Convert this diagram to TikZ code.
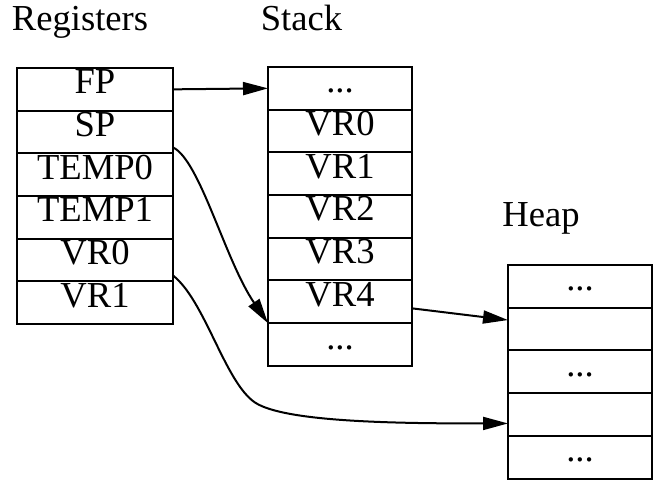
\documentclass[tikz,border=0pt]{standalone}
\usepackage{fontspec}
\setmainfont{Liberation Serif}
\usetikzlibrary{positioning,arrows.meta}
\newcommand{\celldots}{...}
\tikzset{
	cell/.style={draw, line width=1pt, inner sep=0pt, outer sep=0pt, minimum height=21.35pt,
		text height=.70em, text depth=.25em, font=\fontsize{18.3}{22}\selectfont},
	title/.style={anchor=base, inner sep=0pt, font=\fontsize{18.3}{22}\selectfont},
	ptr/.style={line width=1pt, -{Triangle[length=12.5pt,width=6.5pt]}}
}
\begin{document}
\begin{tikzpicture}[x=.5pt, y=-.5pt]
	\useasboundingbox (0,0) rectangle (653,480);
	
	\node[title] (regtitle) at (80,31) {Registers};
	\node[title] (stktitle) at (301.5,31) {Stack};
	\node[title] (heaptitle) at (541,227) {Heap};
	
	% registers
	\node[cell, minimum width=78pt] (reg1) at (95,89.35) {FP};
	\foreach \txt [count=\i from 2, remember=\i as \last (initially 1)] in {SP,TEMP0,TEMP1,VR0,VR1}
		\node[cell, minimum width=78pt, below=0pt of reg\last] (reg\i) {\txt};
	
	% stack
	\node[cell, minimum width=72pt] (stk1) at (340,88.35) {\celldots};
	\foreach \txt [count=\i from 2, remember=\i as \last (initially 1)] in {VR0,VR1,VR2,VR3,VR4,\celldots}
		\node[cell, minimum width=72pt, below=0pt of stk\last] (stk\i) {\txt};
	
	% heap
	\node[cell, minimum width=72pt] (heap1) at (580,286.35) {\celldots};
	\foreach \txt [count=\i from 2, remember=\i as \last (initially 1)] in {{},\celldots,{},\celldots}
		\node[cell, minimum width=72pt, below=0pt of heap\last] (heap\i) {\txt};
	
	\draw[ptr] (reg1.east) -- (stk1.west);
	\draw[ptr] ([yshift=3pt]reg2.south east) .. controls +(27,13) and +(-43,-63) .. (stk7.north west);
	\draw[ptr] ([yshift=3pt]reg5.south east) .. controls +(32,25) and +(-30,-20) .. ++(82,127)
		.. controls +(30,20) and +(-107,0) .. ([yshift=-4.5pt]heap4.west);
	\draw[ptr] ([yshift=-3.25pt]stk6.east) -- ([yshift=4.5pt]heap2.west);
\end{tikzpicture}
\end{document}
